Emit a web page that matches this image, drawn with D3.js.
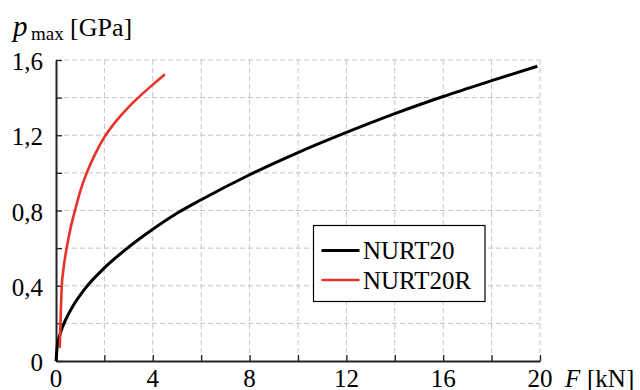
<!DOCTYPE html>
<html>
<head>
<meta charset="utf-8">
<script src="https://cdn.jsdelivr.net/npm/d3@7"></script>
<style>
  html, body { margin: 0; padding: 0; background: #fff; }
  svg { display: block; font-family: "Liberation Serif", "Times New Roman", serif; }
</style>
</head>
<body>
<svg id="chart" width="640" height="390"></svg>
<script>
// Load F [kN] vs. maximum contact pressure p_max [GPa]
const nurt20F = [0, 0.05, 0.15, 0.35, 0.7, 1.2, 2, 3, 4, 5, 6, 8, 10, 12, 14, 16, 18, 19.89];
const nurt20P = [0, 0.075, 0.135, 0.205, 0.292, 0.385, 0.495, 0.605, 0.7, 0.785, 0.857, 0.99, 1.108, 1.215, 1.315, 1.406, 1.49, 1.567];

const nurt20rF = [0.15, 0.17, 0.2, 0.235, 0.3, 0.44, 0.6, 0.785, 1.02, 1.27, 1.6, 2.0, 2.5, 3.0, 3.4, 4.0, 4.5];
const nurt20rP = [0.07, 0.13, 0.27, 0.39, 0.48, 0.6, 0.705, 0.8, 0.91, 1.0, 1.096, 1.19, 1.278, 1.35, 1.4, 1.469, 1.524];

const seriesNames = ["NURT20", "NURT20R"];
const seriesColors = ["#000000", "#e8312a"];

const xTickValues = [0, 4, 8, 12, 16, 20];
const xTickLabels = ["0", "4", "8", "12", "16", "20"];
const yTickValues = [0, 0.4, 0.8, 1.2, 1.6];
const yTickLabels = ["0", "0,4", "0,8", "1,2", "1,6"];
const xMinor = d3.range(0, 20.001, 2);
const yMinor = d3.range(0, 1.6001, 0.2);

const svg = d3.select("#chart");
const x = d3.scaleLinear().domain([0, 20]).range([56, 540]);
const y = d3.scaleLinear().domain([0, 1.6]).range([361, 60]);

// dashed grid
const grid = svg.append("g");
grid.selectAll("line.gx").data(xMinor.filter(v => v > 0)).join("line")
  .attr("x1", d => x(d)).attr("x2", d => x(d))
  .attr("y1", y(0)).attr("y2", y(1.6))
  .attr("stroke", "#c4c4c4").attr("stroke-width", 1).attr("stroke-dasharray", "5,3");
grid.selectAll("line.gy").data(yMinor.filter(v => v > 0.01)).join("line")
  .attr("x1", x(0)).attr("x2", x(20))
  .attr("y1", d => y(d)).attr("y2", d => y(d))
  .attr("stroke", "#c4c4c4").attr("stroke-width", 1).attr("stroke-dasharray", "5,3");

// axes with inward ticks
const xAxis = svg.append("g").attr("transform", `translate(0,${y(0)})`)
  .call(d3.axisTop(x).tickValues(xMinor).tickSize(6).tickSizeOuter(0).tickFormat(""));
const yAxis = svg.append("g").attr("transform", `translate(${x(0)},0)`)
  .call(d3.axisRight(y).tickValues(yMinor).tickSize(6).tickSizeOuter(0).tickFormat(""));
[xAxis, yAxis].forEach(g => {
  g.select(".domain").attr("stroke", "#222").attr("stroke-width", 2);
  g.selectAll(".tick line").attr("stroke", "#222").attr("stroke-width", 1.3);
});

// tick labels
svg.append("g").selectAll("text").data(xTickValues).join("text")
  .attr("x", d => x(d)).attr("y", 387)
  .attr("text-anchor", "middle").attr("font-size", 25).attr("fill", "#000")
  .text((d, i) => xTickLabels[i]);
svg.append("g").selectAll("text").data(yTickValues).join("text")
  .attr("x", 43).attr("y", d => y(d) + 10)
  .attr("text-anchor", "end").attr("font-size", 25).attr("fill", "#000")
  .text((d, i) => yTickLabels[i]);

// axis titles
const yt = svg.append("text").attr("font-size", 26).attr("fill", "#000");
yt.append("tspan").attr("x", 13).attr("y", 36).attr("font-size", 29).attr("font-style", "italic").text("p");
yt.append("tspan").attr("x", 31).attr("y", 40).attr("font-size", 19).text("max");
yt.append("tspan").attr("x", 70).attr("y", 36).text("[GPa]");

const xt = svg.append("text").attr("font-size", 25).attr("fill", "#000");
xt.append("tspan").attr("x", 565).attr("y", 387).attr("font-style", "italic").text("F");
xt.append("tspan").attr("x", 587).attr("y", 387).text("[kN]");

// curves
const line = d3.line().x(d => x(d[0])).y(d => y(d[1])).curve(d3.curveMonotoneX);
const series = [
  d3.zip(nurt20F, nurt20P),
  d3.zip(nurt20rF, nurt20rP)
];
const widths = [3, 2.6];
series.forEach((pts, i) => {
  svg.append("path").datum(pts)
    .attr("d", line)
    .attr("fill", "none")
    .attr("stroke", seriesColors[i])
    .attr("stroke-width", widths[i])
    .attr("stroke-linejoin", "round");
});

// legend
const lg = svg.append("g");
lg.append("rect").attr("x", 313.5).attr("y", 225.5).attr("width", 171.5).attr("height", 76)
  .attr("fill", "#fff").attr("stroke", "#000").attr("stroke-width", 1.2);
seriesNames.forEach((name, i) => {
  const ly = 250.5 + i * 29.5;
  lg.append("line").attr("x1", 321.5).attr("x2", 359.5).attr("y1", ly).attr("y2", ly)
    .attr("stroke", seriesColors[i]).attr("stroke-width", widths[i]);
  lg.append("text").attr("x", 363).attr("y", ly + 8.5)
    .attr("font-size", 25).attr("fill", "#000").text(name);
});
</script>
</body>
</html>
